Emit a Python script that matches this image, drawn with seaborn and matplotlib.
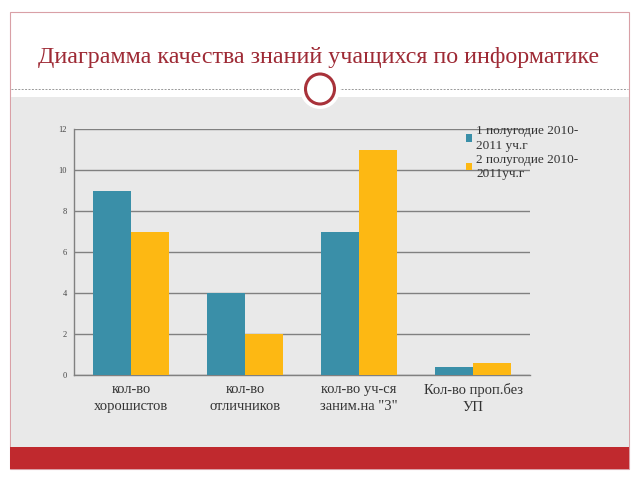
import numpy as np
import pandas as pd
import matplotlib.pyplot as plt
import seaborn as sns
from matplotlib.patches import Rectangle, Ellipse
from matplotlib.lines import Line2D

categories = ["кол-во\nхорошистов", "кол-во\nотличников", "кол-во уч-ся\nзаним.на \"3\"", "Кол-во проп.без\nУП"]
series_names = ["1 полугодие 2010-\n2011 уч.г", "2 полугодие 2010-\n2011уч.г"]
first_half = [9, 4, 7, 0.4]
second_half = [7, 2, 11, 0.6]
y_ticks = [0, 2, 4, 6, 8, 10, 12]

df = pd.DataFrame({
    "cat": categories * 2,
    "series": [series_names[0]] * 4 + [series_names[1]] * 4,
    "value": first_half + second_half,
})

sns.set_theme(style="white")
plt.rcParams['font.family'] = ['Liberation Serif', 'DejaVu Serif']

fig = plt.figure(figsize=(6.4, 4.8), dpi=100)
fig.patch.set_facecolor("white")

# slide decorations (figure pixel coords -> fraction)
W, H = 640, 480
def fx(x): return x / W
def fy(y): return 1 - y / H

fig.add_artist(Rectangle((fx(10), fy(469)), fx(619), 457 / H, facecolor="white",
                         edgecolor="#d9a0a6", lw=0.8, transform=fig.transFigure, zorder=0))
fig.add_artist(Rectangle((fx(10.5), fy(447)), fx(618.5), 350 / H, facecolor="#e9e9e9",
                         edgecolor="none", transform=fig.transFigure, zorder=0))
fig.add_artist(Rectangle((fx(10), fy(469)), fx(619), 22 / H, facecolor="#c0292e",
                         edgecolor="none", transform=fig.transFigure, zorder=0))
fig.add_artist(Line2D([fx(11), fx(628)], [fy(89), fy(89)], color="#999999", lw=0.7,
                      linestyle=(0, (2, 1.5)), transform=fig.transFigure, zorder=1))
fig.add_artist(Ellipse((fx(320), fy(89)), 40 / W, 40 / H, transform=fig.transFigure,
                       facecolor="white", edgecolor="none", zorder=2))
fig.add_artist(Ellipse((fx(320), fy(89)), 29 / W, 30 / H, transform=fig.transFigure,
                       facecolor="white", edgecolor="#a8323a", lw=2.2, zorder=3))
fig.text(fx(319), fy(57), "Диаграмма качества знаний учащихся по информатике",
         ha="center", va="center", fontsize=17.3, color="#9e2a35")

ax = fig.add_axes([fx(74), fy(375), (530 - 74) / W, (375 - 129) / H])
ax.set_facecolor("none")
sns.barplot(data=df, x="cat", y="value", hue="series", palette=["#3a8fa8", "#fdb813"],
            width=0.66, ax=ax, saturation=1, edgecolor="none", zorder=3)

ax.set_ylim(0, 12)
ax.set_xlim(-0.5, 3.5)
ax.set_yticks(y_ticks)
ax.set_yticklabels([str(t) for t in y_ticks], fontsize=6, color="#444444")
ax.set_xlabel("")
ax.set_ylabel("")
ax.tick_params(axis="x", which="major", length=0, labelsize=10.5, colors="#333333", pad=6)
for lbl in ax.get_xticklabels():
    lbl.set_linespacing(1.35)
ax.set_xticks(np.arange(-0.5, 4.0, 1.0), minor=True)
ax.tick_params(axis="x", which="minor", length=3, color="#808080", direction="out")
ax.tick_params(axis="y", length=3, color="#808080", direction="out", pad=2)
ax.grid(axis="y", color="#808080", lw=1, zorder=0)
for s in ["top", "right"]:
    ax.spines[s].set_visible(False)
for s in ["left", "bottom"]:
    ax.spines[s].set_color("#808080")
    ax.spines[s].set_linewidth(1)

handles, labels = ax.get_legend_handles_labels()
leg = ax.legend(handles, labels, loc="upper left", bbox_to_anchor=(fx(454), fy(113)),
                bbox_transform=fig.transFigure, frameon=False, fontsize=9.5,
                handlelength=0.5, handleheight=0.5, handletextpad=0.3, labelspacing=0.15,
                labelcolor="#333333")
for t in leg.get_texts():
    t.set_linespacing(1.3)

fig.savefig("out.png", dpi=100)
